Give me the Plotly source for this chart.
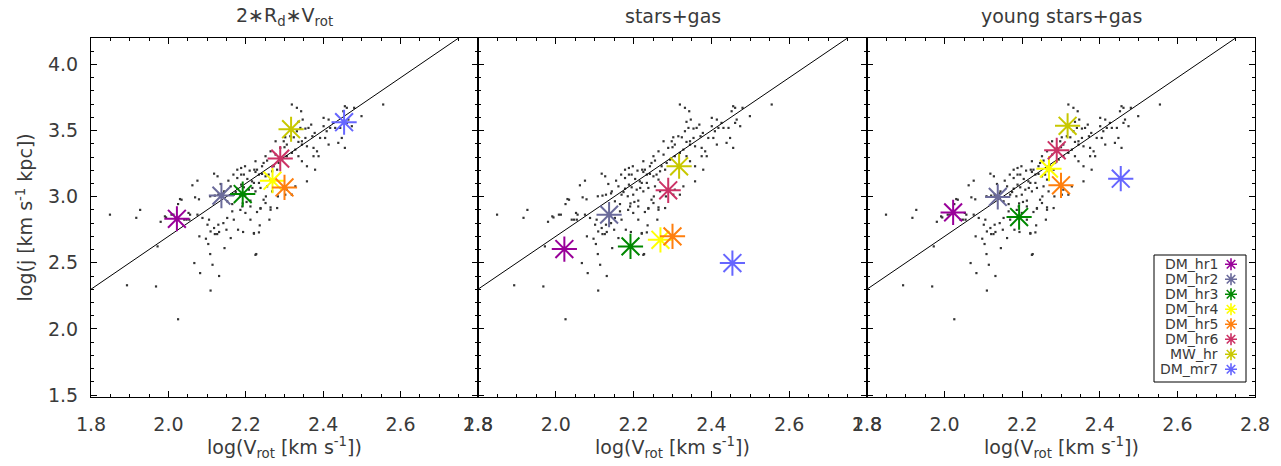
import plotly.graph_objects as go

# ---------------- data ----------------
sim_names = ["DM_hr1", "DM_hr2", "DM_hr3", "DM_hr4", "DM_hr5", "DM_hr6", "MW_hr", "DM_mr7"]
sim_colors = ["#990099", "#6b6b9b", "#008800", "#ffff00", "#ff7f0e", "#cc3366", "#c8c800", "#6666ff"]
sim_logv = [2.022, 2.137, 2.192, 2.269, 2.300, 2.289, 2.317, 2.454]
j_rdv = [2.833, 3.008, 3.020, 3.121, 3.070, 3.288, 3.510, 3.563]
j_starsgas = [2.604, 2.864, 2.624, 2.674, 2.700, 3.048, 3.230, 2.498]
j_young = [2.881, 2.998, 2.846, 3.212, 3.086, 3.351, 3.536, 3.136]

panel_titles = ["2\u2217R<sub>d</sub>\u2217V<sub>rot</sub>", "stars+gas", "young stars+gas"]

# observed sample (log Vrot, log j)
obs_logv = [
    2.118, 2.075, 2.062, 2.030, 2.025, 2.069, 2.079, 2.108, 2.120, 2.129, 2.142, 2.135, 2.127, 2.155,
    2.168, 2.178, 2.188, 2.198, 2.195, 2.210, 2.222, 2.225, 2.204, 2.188, 2.195, 2.208, 2.178, 2.169,
    2.152, 2.165, 2.192, 2.202, 2.212, 2.144, 2.161, 2.174, 2.185, 2.199, 2.216, 2.188, 2.178,
    2.319, 2.332, 2.343, 2.347, 2.336, 2.369, 2.362, 2.354, 2.341, 2.332, 2.378, 2.372, 2.354, 2.345,
    2.336, 2.324, 2.315, 2.302, 2.298, 2.306, 2.300, 2.289, 2.277, 2.277, 2.264, 2.251, 2.255, 2.246,
    2.242, 2.229, 2.225, 2.234, 2.242, 2.251, 2.259, 2.268, 2.281, 2.272, 2.285, 2.294, 2.306, 2.319,
    2.328, 2.345, 2.358, 2.375, 2.384, 2.375, 2.388, 2.379, 2.358, 2.345, 2.336, 2.401, 2.414, 2.426,
    2.418, 2.401, 2.409, 2.431, 2.444, 2.452, 2.461, 2.456, 2.480, 2.499, 2.461, 2.465, 2.474, 2.448,
    2.405, 2.392, 2.414, 2.439, 2.456, 2.555, 2.358, 2.328, 2.306, 2.319, 2.302, 2.283, 2.252, 2.246,
    2.251, 2.225, 2.217, 2.221, 2.234, 2.264, 2.255, 2.238, 2.268, 2.281, 2.238, 2.264,
    2.025, 1.968, 1.927, 1.917, 1.980, 1.994, 2.008, 1.972, 2.067, 2.082, 2.114, 2.108, 2.103, 2.097,
    2.080, 2.131, 2.109, 2.145, 2.150, 2.120, 2.131, 2.180, 2.193, 2.052, 2.054, 2.041, 2.075, 2.088,
    2.101, 2.105, 2.109, 2.126, 2.129, 2.142, 2.169, 2.199, 2.212, 2.221, 2.225, 2.186, 2.191, 2.212,
    2.152, 2.165, 2.118, 2.161,
    2.264, 2.238, 2.229, 2.261, 2.236, 2.234, 2.221, 2.227,
    1.849, 1.893, 1.991, 2.013, 2.034, 2.047, 2.056,
]
obs_logj = [
    3.174, 3.121, 3.086, 2.982, 2.944, 2.995, 2.980, 3.003, 3.008, 3.015, 3.025, 3.096, 3.154, 3.121,
    3.167, 3.204, 3.217, 3.230, 3.167, 3.197, 3.204, 3.268, 3.134, 3.091, 3.071, 3.053, 3.061, 3.015,
    2.965, 2.944, 2.949, 2.960, 2.970, 3.040, 3.078, 3.035, 3.003, 3.015, 3.116, 3.167, 3.141,
    3.697, 3.672, 3.646, 3.583, 3.566, 3.545, 3.520, 3.515, 3.520, 3.495, 3.482, 3.457, 3.444, 3.419,
    3.414, 3.449, 3.457, 3.449, 3.419, 3.394, 3.374, 3.369, 3.419, 3.318, 3.343, 3.306, 3.273, 3.255,
    3.230, 3.204, 3.187, 3.167, 3.172, 3.154, 3.167, 3.192, 3.204, 3.230, 3.255, 3.280, 3.306, 3.331,
    3.356, 3.394, 3.381, 3.369, 3.343, 3.306, 3.306, 3.204, 3.230, 3.268, 3.306, 3.596, 3.583, 3.558,
    3.520, 3.533, 3.495, 3.520, 3.520, 3.646, 3.672, 3.684, 3.672, 3.609, 3.558, 3.583, 3.533, 3.444,
    3.444, 3.444, 3.394, 3.407, 3.369, 3.697, 3.116, 3.078, 3.053, 3.015, 3.015, 3.002, 3.002, 2.977,
    2.952, 3.040, 3.066, 3.104, 3.104, 3.129, 3.078, 3.066, 3.040, 2.914, 2.914, 2.901,
    2.073, 2.321, 2.900, 2.840, 2.810, 2.843, 2.864, 2.624, 2.498, 2.422, 2.485, 2.566, 2.642, 2.682,
    2.700, 2.400, 2.290, 2.611, 2.750, 2.717, 2.733, 2.750, 2.733, 2.877, 2.826, 2.826, 2.864, 2.839,
    2.788, 2.826, 2.737, 2.717, 2.788, 2.800, 2.826, 2.877, 2.826, 2.725, 2.560, 2.900, 2.926, 2.926,
    2.839, 2.889, 2.763, 2.687,
    2.919, 2.909, 2.884, 2.826, 2.783, 2.730, 2.720, 2.566,
    2.864, 2.330, 2.851, 2.864, 2.977, 2.826, 2.864,
]

fit_logv = [1.8, 2.8]
fit_slope = 2.0
fit_intercept = -1.3

x_ticks = [1.8, 2.0, 2.2, 2.4, 2.6, 2.8]
y_ticks = [1.5, 2.0, 2.5, 3.0, 3.5, 4.0]

# ---------------- layout helpers ----------------
W, H = 1281, 466
x_domains = [[91 / W, 478 / W], [478 / W, 867 / W], [867 / W, 1255 / W]]
y_domain = [1 - 397 / H, 1 - 38 / H]
FONT = "DejaVu Sans"
TXT = "#3a3a3a"

fig = go.Figure()
panels_j = [j_rdv, j_starsgas, j_young]
fit_logj = [fit_slope * v + fit_intercept for v in fit_logv]

for k in range(3):
    xa = "x" if k == 0 else f"x{k+1}"
    ya = "y" if k == 0 else f"y{k+1}"
    fig.add_trace(go.Scatter(x=obs_logv, y=obs_logj, mode="markers", xaxis=xa, yaxis=ya,
                             marker=dict(symbol="square", size=2.2, color="#333333", line=dict(width=0)),
                             showlegend=False, hoverinfo="skip"))
    fig.add_trace(go.Scatter(x=fit_logv, y=fit_logj, mode="lines", xaxis=xa, yaxis=ya,
                             line=dict(color="black", width=1), showlegend=False, hoverinfo="skip"))
    for i in range(len(sim_names)):
        fig.add_trace(go.Scatter(x=[sim_logv[i]], y=[panels_j[k][i]], mode="markers", xaxis=xa, yaxis=ya,
                                 marker=dict(symbol="asterisk-open", size=21, color=sim_colors[i],
                                             line=dict(width=2, color=sim_colors[i])),
                                 showlegend=False, name=sim_names[i]))

# custom legend (text left, symbol right) on an overlay axis
leg_rows = list(range(len(sim_names)))
fig.add_trace(go.Scatter(x=[0.837] * len(sim_names), y=leg_rows, mode="markers", xaxis="x4", yaxis="y4",
                         marker=dict(symbol="asterisk-open", size=10, color=sim_colors,
                                     line=dict(width=1.6, color=sim_colors)),
                         showlegend=False, hoverinfo="skip"))

axis_common = dict(range=[1.8, 2.8], tickmode="array", tickvals=x_ticks, ticktext=[f"{v:.1f}" for v in x_ticks],
                   ticks="inside", ticklen=6, tickcolor="black", tickwidth=1,
                   minor=dict(dtick=0.05, tick0=1.8, ticks="inside", ticklen=3, tickcolor="black"),
                   showline=True, linecolor="black", linewidth=1, mirror="allticks",
                   showgrid=False, zeroline=False, ticklabelstandoff=10, automargin=False,
                   tickfont=dict(family=FONT, size=19, color=TXT))
yaxis_common = dict(range=[1.485, 4.2], tickmode="array", tickvals=y_ticks,
                    ticks="inside", ticklen=6, tickcolor="black", tickwidth=1,
                    minor=dict(dtick=0.1, tick0=1.5, ticks="inside", ticklen=3, tickcolor="black"),
                    showline=True, linecolor="black", linewidth=1, mirror="allticks",
                    showgrid=False, zeroline=False, ticklabelstandoff=8, automargin=False,
                    tickfont=dict(family=FONT, size=19, color=TXT), domain=y_domain)

layout = dict(width=W, height=H, margin=dict(l=0, r=0, t=0, b=0, autoexpand=False), paper_bgcolor="white",
              plot_bgcolor="white", showlegend=False)
for k in range(3):
    xn = "xaxis" if k == 0 else f"xaxis{k+1}"
    yn = "yaxis" if k == 0 else f"yaxis{k+1}"
    layout[xn] = dict(axis_common, domain=x_domains[k], anchor="y" if k == 0 else f"y{k+1}")
    ya = dict(yaxis_common, anchor="x" if k == 0 else f"x{k+1}")
    ya["tickformat"] = ".1f"
    if k > 0:
        ya["showticklabels"] = False
    layout[yn] = ya

leg_x0, leg_x1 = 1154 / W, 1246 / W
leg_y0, leg_y1 = 1 - 382 / H, 1 - 255 / H
layout["xaxis4"] = dict(domain=[leg_x0, leg_x1], range=[0, 1], visible=False, anchor="y4", fixedrange=True)
layout["yaxis4"] = dict(domain=[leg_y0, leg_y1], range=[7.85, -0.62], visible=False, anchor="x4", fixedrange=True)

fig.update_layout(**layout)

annotations = []
for k in range(3):
    cx = (x_domains[k][0] + x_domains[k][1]) / 2
    annotations.append(dict(text=panel_titles[k], x=cx, y=1 - 16 / H, xref="paper", yref="paper",
                            showarrow=False, xanchor="center", yanchor="middle",
                            font=dict(family=FONT, size=19, color=TXT)))
    annotations.append(dict(text="log(V<sub>rot</sub> [km s<sup>-1</sup>])", x=cx, y=1 - 447 / H,
                            xref="paper", yref="paper", showarrow=False, xanchor="center", yanchor="middle",
                            font=dict(family=FONT, size=19, color=TXT)))
annotations.append(dict(text="log(j [km s<sup>-1</sup> kpc])", x=24 / W, y=(y_domain[0] + y_domain[1]) / 2,
                        xref="paper", yref="paper", showarrow=False, textangle=-90,
                        xanchor="center", yanchor="middle", font=dict(family=FONT, size=19, color=TXT)))
for i, nm in enumerate(sim_names):
    annotations.append(dict(text=nm, x=0.717, y=leg_rows[i], xref="x4", yref="y4", showarrow=False,
                            xanchor="right", yanchor="middle", font=dict(family=FONT, size=14, color=TXT)))
fig.update_layout(annotations=annotations)

fig.add_shape(type="rect", xref="paper", yref="paper", x0=leg_x0, x1=leg_x1, y0=leg_y0, y1=leg_y1,
              line=dict(color="black", width=1), fillcolor="rgba(0,0,0,0)")

fig.write_html("out.html", config={"displayModeBar": False},
               post_script="document.body.style.margin='0px';document.body.style.padding='0px';")
